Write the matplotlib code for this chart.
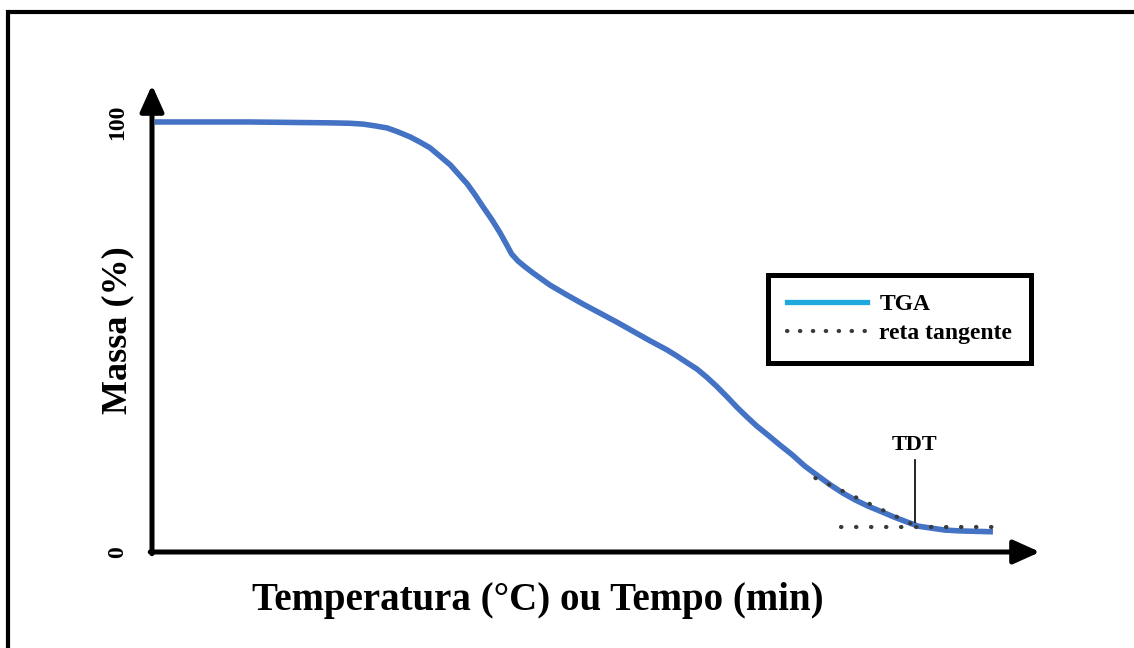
import matplotlib
matplotlib.use("Agg")
import matplotlib.pyplot as plt
from matplotlib.lines import Line2D
from matplotlib.patches import Rectangle

# TGA curve (temperature in arbitrary units, mass in %)
temp = [0.3, 11.0, 20.0, 22.3, 23.8, 25.1, 26.5, 27.7, 29.1, 30.2, 31.3, 32.4,
        33.6, 34.5, 35.5, 36.4, 37.3, 38.3, 39.2, 39.9, 40.5, 41.2, 41.9, 42.9,
        44.8, 46.7, 48.5, 50.5, 52.4, 54.2, 56.1, 58.0, 59.1, 60.2, 61.4, 62.5,
        63.6, 64.8, 65.9, 67.0, 68.1, 69.3, 70.7, 72.1, 73.5, 75.0, 76.4, 77.8,
        79.2, 80.6, 82.0, 83.6, 85.0, 86.3, 87.6, 89.3, 91.0, 94.7]
mass = [100.0, 100.0, 99.8, 99.7, 99.5, 99.1, 98.6, 97.7, 96.5, 95.3, 94.0, 92.1,
        90.0, 87.9, 85.6, 83.0, 80.2, 77.2, 74.2, 71.6, 69.3, 67.7, 66.5, 64.9,
        62.1, 59.8, 57.7, 55.5, 53.4, 51.3, 49.1, 47.0, 45.6, 44.1, 42.5, 40.6,
        38.5, 36.0, 33.6, 31.4, 29.3, 27.3, 24.9, 22.6, 20.0, 17.7, 15.6, 13.7,
        12.1, 10.7, 9.5, 8.1, 7.0, 6.0, 5.6, 5.1, 4.9, 4.7]

# tangent lines
tan_x = [74.7, 86.5]
tan_y = [17.2, 5.6]
base_x = [77.6, 95.5]
base_y = [5.8, 5.8]

# TDT marker
tdt_x = 85.9
tdt_y = [7.0, 21.4]
tdt_label_y = 24.9

y_ticks = [0, 100]
y_ticklabels = ["0", "100"]

XMAX, YMAX = 100, 108.6
SERIF = ["Liberation Serif", "DejaVu Serif"]
TGA_BLUE = "#4472C4"
LEG_BLUE = "#1FA8DC"
DOT = "#3a3a3a"

fig = plt.figure(figsize=(11.34, 6.48), dpi=100)
ax = fig.add_axes([152 / 1134, 1 - 552 / 648, 888 / 1134, 467 / 648])
ax.set_xlim(0, XMAX)
ax.set_ylim(0, YMAX)
for s in ax.spines.values():
    s.set_visible(False)

# axis arrows
arrow = dict(arrowstyle="-|>,head_length=0.8,head_width=0.36", lw=3.6,
             color="black", mutation_scale=20, shrinkA=0, shrinkB=0)
ax.annotate("", xy=(XMAX, 0), xytext=(-0.2, 0), arrowprops=arrow,
            annotation_clip=False)
ax.annotate("", xy=(0, YMAX), xytext=(0, -0.4), arrowprops=arrow,
            annotation_clip=False)

ax.plot(temp, mass, color=TGA_BLUE, lw=4, solid_capstyle="butt",
        solid_joinstyle="round", clip_on=False)
ax.plot(tan_x, tan_y, color=DOT, lw=3, ls=(0, (0.1, 3.5)),
        dash_capstyle="round", clip_on=False)
ax.plot(base_x, base_y, color=DOT, lw=3, ls=(0, (0.1, 3.5)),
        dash_capstyle="round", clip_on=False)

ax.plot([tdt_x, tdt_x], tdt_y, color="black", lw=1.2)
ax.text(tdt_x, tdt_label_y, "TDT", ha="center", va="center", fontsize=16,
        fontweight="bold", family=SERIF)

ax.set_xticks([])
ax.set_yticks(y_ticks)
ax.set_yticklabels(y_ticklabels, rotation=90, va="center", fontsize=17,
                   fontweight="bold", family=SERIF)
ax.tick_params(axis="y", length=0, pad=17)

ax.text(-0.038, 0.475, "Massa (%)", transform=ax.transAxes, rotation=90,
        ha="center", va="center", fontsize=26, fontweight="bold", family=SERIF)
ax.text(0.435, -0.103, "Temperatura (°C) ou Tempo (min)", transform=ax.transAxes,
        ha="center", va="center", fontsize=28, fontweight="bold", family=SERIF)

handles = [
    Line2D([], [], color=LEG_BLUE, lw=3.8),
    Line2D([], [], color=DOT, lw=3, ls=(0, (0.1, 3.0)), dash_capstyle="round"),
]
leg = ax.legend(handles, ["TGA", "reta tangente"], loc="upper left",
                bbox_to_anchor=(0.694, 0.593), borderaxespad=0, fancybox=False,
                frameon=True, framealpha=1, handlelength=3.4, handletextpad=0.5,
                borderpad=0.8, labelspacing=0.3,
                prop=dict(family=SERIF, weight="bold", size=17))
frame = leg.get_frame()
frame.set_edgecolor("black")
frame.set_linewidth(3.6)

# outer frame (right/bottom edges run off the picture)
fig.patches.append(Rectangle((8 / 1134, -0.1), 1.2, 1.1 - 12.5 / 648,
                             transform=fig.transFigure, fill=False,
                             edgecolor="black", lw=3))

fig.savefig("out.png", dpi=100)
